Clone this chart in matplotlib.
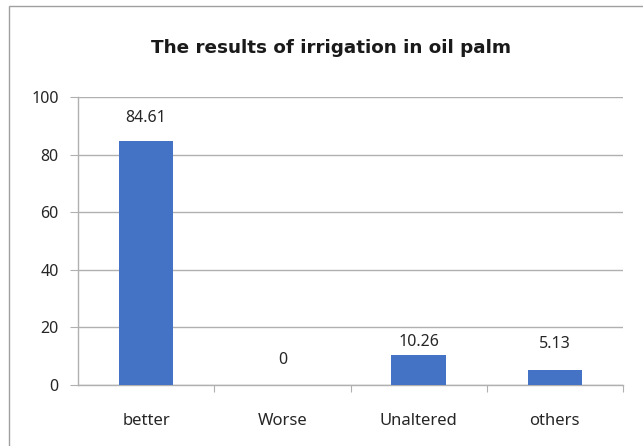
import matplotlib
matplotlib.use("Agg")
import matplotlib.pyplot as plt
from matplotlib.patches import Rectangle

categories = ["better", "Worse", "Unaltered", "others"]
values = [84.61, 0, 10.26, 5.13]
y_ticks = [0, 20, 40, 60, 80, 100]

TITLE = "The results of irrigation in oil palm"
BAR_COLOR = "#4472C4"
LINE_GRAY = "#B0B0B0"
# label distance above bar top, in points (as placed in the original)
LABEL_PAD = [11, 12, 4, 13]

plt.rcParams["font.family"] = ["Noto Sans", "DejaVu Sans"]

fig = plt.figure(figsize=(6.43, 4.46), dpi=100)
ax = fig.add_axes([78 / 643, 1 - 385 / 446, 545 / 643, 288 / 446])

x = range(len(categories))
bars = ax.bar(x, values, width=0.4, color=BAR_COLOR, zorder=3)

for rect, val, pad in zip(bars, values, LABEL_PAD):
    ax.annotate(f"{val:g}", (rect.get_x() + rect.get_width() / 2, val),
                xytext=(0, pad), textcoords="offset points",
                ha="center", va="bottom", fontsize=11.5, color="#262626")

ax.set_xlim(-0.5, len(categories) - 0.5)
ax.set_ylim(0, 100)
ax.set_yticks(y_ticks)
ax.yaxis.grid(True, color=LINE_GRAY, linewidth=1.0, zorder=0)
ax.set_axisbelow(True)

# category labels centred, tick marks between categories
ax.set_xticks([i + 0.5 for i in range(len(categories))])
ax.set_xticklabels([])
ax.set_xticks(list(x), minor=True)
ax.set_xticklabels(categories, minor=True)
ax.tick_params(axis="x", which="major", length=5, color=LINE_GRAY, direction="out")
ax.tick_params(axis="x", which="minor", length=0, pad=20, labelsize=12, labelcolor="#262626")
ax.tick_params(axis="y", length=6, color=LINE_GRAY, pad=8, labelsize=11.5, labelcolor="#262626")

for side in ["top", "right"]:
    ax.spines[side].set_visible(False)
for side in ["left", "bottom"]:
    ax.spines[side].set_color(LINE_GRAY)
    ax.spines[side].set_linewidth(1.0)

fig.text(331 / 643, 1 - 48 / 446, TITLE, ha="center", va="center",
         fontsize=13.2, fontweight="bold", color="#1a1a1a", family="DejaVu Sans")

# chart border (continues past the right/bottom edge)
fig.patches.append(Rectangle((9 / 643, -0.05), 1.0, 1 - 6 / 446 + 0.05,
                             transform=fig.transFigure, fill=False,
                             edgecolor="#A0A0A0", linewidth=1.0))

fig.savefig("out.png", dpi=100)
